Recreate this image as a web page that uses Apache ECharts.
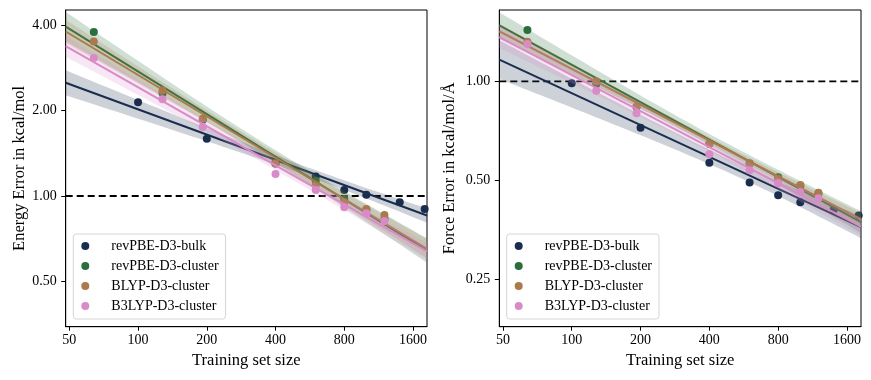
<!DOCTYPE html>
<html>
<head>
<meta charset="utf-8">
<script src="https://cdn.jsdelivr.net/npm/echarts@6/dist/echarts.min.js"></script>
<style>
html,body{margin:0;padding:0;background:#fff;}
#chart{width:871px;height:380px;}
</style>
</head>
<body>
<div id="chart"></div>
<script>
// ---- data ----
const seriesNames = ['revPBE-D3-bulk', 'revPBE-D3-cluster', 'BLYP-D3-cluster', 'B3LYP-D3-cluster'];
const seriesColors = ['#1b2d4f', '#2a6e3b', '#a87a4c', '#d98bc8'];

const sizesBulk = [100, 200, 400, 600, 800, 1000, 1400, 1800];
const sizesCluster = [64, 128, 192, 400, 600, 800, 1000, 1200];

const energyBulk = [2.14, 1.59, 1.30, 1.17, 1.05, 1.01, 0.95, 0.90];
const energyRevPBECluster = [3.78, 2.30, 1.85, 1.31, 1.13, 0.975, 0.89, 0.83];
const energyBLYPCluster = [3.50, 2.35, 1.87, 1.30, 1.09, 0.95, 0.90, 0.857];
const energyB3LYPCluster = [3.06, 2.19, 1.75, 1.195, 1.05, 0.913, 0.87, 0.817];

const forceBulk = [0.986, 0.722, 0.565, 0.492, 0.45, 0.428, 0.407, 0.39];
const forceRevPBECluster = [1.434, 0.98, 0.835, 0.645, 0.562, 0.51, 0.48, 0.455];
const forceBLYPCluster = [1.32, 1.0, 0.837, 0.644, 0.562, 0.505, 0.483, 0.458];
const forceB3LYPCluster = [1.30, 0.936, 0.799, 0.60, 0.536, 0.489, 0.46, 0.44];

const xTicks = [50, 100, 200, 400, 800, 1600];
const energyTicks = [0.5, 1, 2, 4];
const forceTicks = [0.25, 0.5, 1];
const referenceLine = 1.0;

// ---- helpers ----
const FONT = 'Liberation Serif';
const XMIN = 48.2, XMAX = 1843;
const log2 = v => Math.log(v) / Math.LN2;

function fit(xs, ys) {
  const lx = xs.map(log2), ly = ys.map(log2);
  const n = lx.length;
  const mx = lx.reduce((a, b) => a + b, 0) / n;
  const my = ly.reduce((a, b) => a + b, 0) / n;
  let sxx = 0, sxy = 0;
  for (let i = 0; i < n; i++) { sxx += (lx[i] - mx) ** 2; sxy += (lx[i] - mx) * (ly[i] - my); }
  const b = sxy / sxx, a = my - b * mx;
  let ssr = 0;
  for (let i = 0; i < n; i++) ssr += (ly[i] - (a + b * lx[i])) ** 2;
  const s = Math.sqrt(ssr / (n - 2));
  const tTable = {4: 2.776, 5: 2.571, 6: 2.447, 7: 2.365, 8: 2.306, 9: 2.262, 10: 2.228};
  const t = tTable[n - 2] || 2.0;
  return {
    pred: x => Math.pow(2, a + b * log2(x)),
    half: x => t * s * Math.sqrt(1 / n + (log2(x) - mx) ** 2 / sxx)
  };
}

function band(f) {
  const up = [], lo = [];
  const N = 60, l0 = log2(XMIN), l1 = log2(XMAX);
  for (let i = 0; i <= N; i++) {
    const x = Math.pow(2, l0 + (l1 - l0) * i / N);
    const c = log2(f.pred(x)), h = f.half(x);
    up.push([x, Math.pow(2, c + h)]);
    lo.push([x, Math.pow(2, c - h)]);
  }
  return up.concat(lo.reverse());
}

const panels = [
  { xs: [sizesBulk, sizesCluster, sizesCluster, sizesCluster],
    ys: [energyBulk, energyRevPBECluster, energyBLYPCluster, energyB3LYPCluster] },
  { xs: [sizesBulk, sizesCluster, sizesCluster, sizesCluster],
    ys: [forceBulk, forceRevPBECluster, forceBLYPCluster, forceB3LYPCluster] }
];

const series = [];
panels.forEach((p, pi) => {
  series.push({
    type: 'line', name: 'ref' + pi, xAxisIndex: pi, yAxisIndex: pi,
    data: [[XMIN, referenceLine], [XMAX, referenceLine]],
    showSymbol: false, silent: true, z: 1,
    lineStyle: { color: '#000', width: 1.8, type: [7, 4] }
  });
  p.ys.forEach((ys, si) => {
    const xs = p.xs[si];
    const f = fit(xs, ys);
    const poly = band(f);
    const col = seriesColors[si];
    series.push({
      type: 'custom', name: 'band' + pi + si, xAxisIndex: pi, yAxisIndex: pi,
      clip: true, silent: true, z: 10 + si * 3,
      data: [[XMIN, 1]],
      renderItem: (params, api) => ({
        type: 'polygon',
        shape: { points: poly.map(pt => api.coord(pt)) },
        style: { fill: col, opacity: 0.22 }
      })
    });
    series.push({
      type: 'scatter', name: seriesNames[si], xAxisIndex: pi, yAxisIndex: pi,
      data: xs.map((x, i) => [x, ys[i]]),
      symbolSize: 8, z: 11 + si * 3,
      itemStyle: { color: col, opacity: 1 }
    });
    series.push({
      type: 'line', name: 'fit' + pi + si, xAxisIndex: pi, yAxisIndex: pi,
      data: [[XMIN, f.pred(XMIN)], [XMAX, f.pred(XMAX)]],
      showSymbol: false, silent: true, z: 12 + si * 3,
      lineStyle: { color: col, width: 2 }
    });
  });
});

function xAxis(gi) {
  return {
    type: 'log', logBase: 2, gridIndex: gi, min: XMIN, max: XMAX,
    name: 'Training set size', nameLocation: 'middle', nameGap: 25,
    nameTextStyle: { fontFamily: FONT, fontSize: 16.5, color: '#000' },
    axisLine: { show: true, lineStyle: { color: '#000', width: 1 } },
    axisTick: { show: true, length: 4, lineStyle: { color: '#000', width: 1 }, customValues: xTicks },
    axisLabel: { fontFamily: FONT, fontSize: 14, color: '#000', margin: 7,
      customValues: xTicks, formatter: v => String(Math.round(v)) },
    splitLine: { show: false }, minorTick: { show: false }, minorSplitLine: { show: false }
  };
}
function yAxis(gi, name, min, max, ticks, gap) {
  return {
    type: 'log', logBase: 2, gridIndex: gi, min: min, max: max,
    name: name, nameLocation: 'middle', nameGap: gap,
    nameTextStyle: { fontFamily: FONT, fontSize: 16.5, color: '#000' },
    axisLine: { show: true, lineStyle: { color: '#000', width: 1 } },
    axisTick: { show: true, length: 4.5, lineStyle: { color: '#000', width: 1 }, customValues: ticks },
    axisLabel: { fontFamily: FONT, fontSize: 14, color: '#000', margin: 9,
      customValues: ticks, formatter: v => v.toFixed(2) },
    splitLine: { show: false }, minorTick: { show: false }, minorSplitLine: { show: false }
  };
}
function legend(left) {
  return {
    left: left, top: 234, orient: 'vertical',
    data: seriesNames.map(n => ({ name: n, icon: 'circle' })),
    itemWidth: 24, itemHeight: 8, itemGap: 4,
    padding: [4, 7, 5, 8],
    backgroundColor: 'rgba(255,255,255,0.8)',
    borderColor: '#d6d6d6', borderWidth: 1, borderRadius: 3,
    selectedMode: false,
    textStyle: { fontFamily: FONT, fontSize: 14, color: '#000', lineHeight: 16, padding: [0, 0, 0, 9] }
  };
}

const chart = echarts.init(document.getElementById('chart'), null, { renderer: 'canvas' });
chart.setOption({
  animation: false,
  backgroundColor: '#fff',
  grid: [
    { left: 65.7, top: 10, width: 361.3, height: 316.7, show: true, borderColor: '#000', borderWidth: 1, backgroundColor: 'transparent' },
    { left: 499.3, top: 10, width: 361.7, height: 316.7, show: true, borderColor: '#000', borderWidth: 1, backgroundColor: 'transparent' }
  ],
  xAxis: [xAxis(0), xAxis(1)],
  yAxis: [
    yAxis(0, 'Energy Error in kcal/mol', 0.3466, 4.516, energyTicks, 38),
    yAxis(1, 'Force Error in kcal/mol/Å', 0.1789, 1.6487, forceTicks, 41)
  ],
  legend: [legend(73.3), legend(506.7)],
  series: series
});
</script>
</body>
</html>
